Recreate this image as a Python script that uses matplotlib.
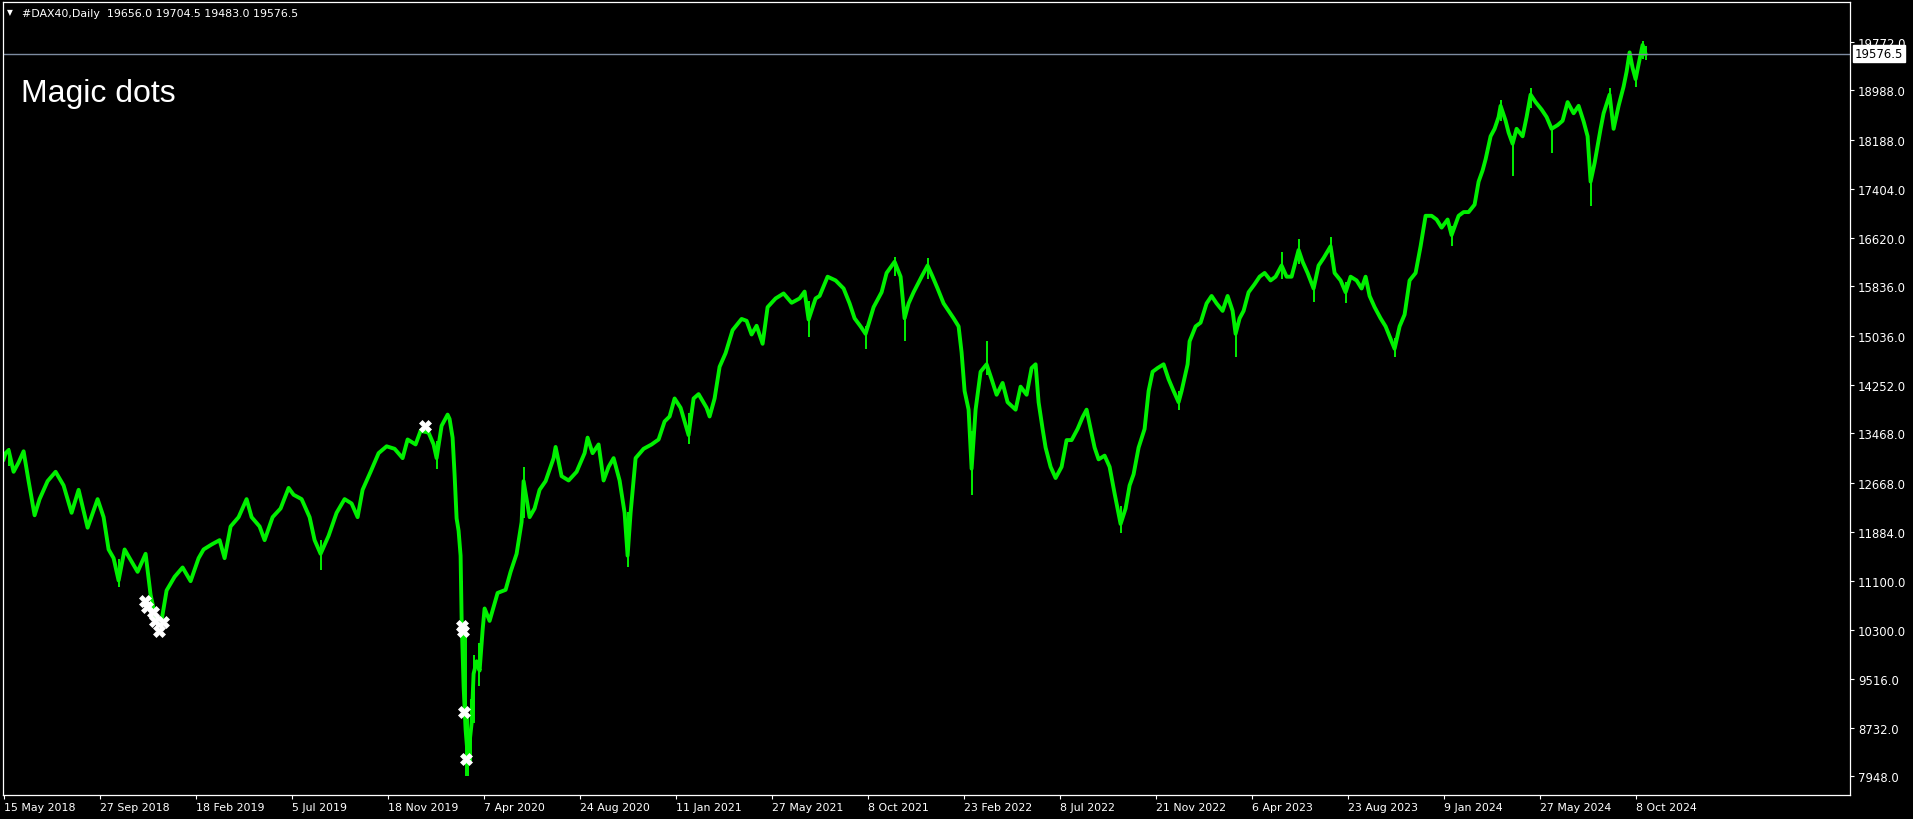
import numpy as np
import matplotlib.pyplot as plt
import matplotlib.transforms as mtransforms

# Daily DAX40 bars, indexed by bar number (1 bar per pixel)
bar_idx = [0, 2, 5, 10, 15, 20, 25, 31, 36, 44, 52, 60, 68, 75, 84, 94, 100, 105, 110, 115,
           121, 126, 134, 142, 147, 152, 158, 163, 171, 179, 187, 195, 200, 208, 216, 221, 227,
           235, 243, 248, 256, 261, 269, 277, 285, 290, 298, 306, 311, 317, 325, 333, 341, 348,
           354, 359, 367, 375, 383, 391, 399, 404, 412, 417, 425, 430, 433, 438, 444, 446, 449,
           451, 453, 455, 457, 458, 460, 462, 464, 466, 468, 470, 473, 476, 479, 481, 486, 494,
           502, 507, 513, 518, 520, 526, 531, 536, 542, 550, 552, 558, 565, 573, 581, 584, 589,
           595, 600, 605, 610, 616, 621, 624, 627, 632, 640, 648, 655, 661, 666, 671, 677, 685,
           690, 695, 703, 706, 711, 716, 722, 729, 738, 743, 748, 753, 759, 764, 772, 780, 788,
           796, 801, 805, 812,
           816, 824, 832, 840, 846, 851, 857, 862, 870, 878, 883, 891, 897, 901, 905, 910, 918,
           924, 929, 934, 940, 945, 950, 955, 958, 961, 965, 968, 972, 977, 983, 988, 993, 999,
           1004, 1012, 1017, 1023, 1028, 1032, 1035, 1039, 1042, 1047, 1052, 1058, 1063, 1068,
           1074, 1079, 1083, 1087, 1091, 1095, 1101, 1106, 1111, 1117, 1122, 1126, 1130, 1135,
           1141, 1145, 1149, 1154, 1160, 1165, 1170, 1175, 1178, 1184, 1186, 1192, 1197, 1203,
           1208, 1213, 1219, 1224, 1229, 1232, 1236, 1240, 1245, 1251, 1256, 1261, 1267, 1272,
           1278, 1283, 1288, 1295, 1299, 1304, 1310, 1315, 1320, 1327, 1331, 1337, 1342, 1347,
           1353, 1358, 1362, 1366, 1371, 1377, 1382, 1388, 1391, 1396, 1401, 1406, 1412, 1417,
           1422, 1428, 1433, 1438, 1444, 1448, 1455, 1460, 1465, 1471, 1475, 1479, 1482, 1487,
           1491, 1495, 1497, 1502, 1505, 1509, 1513, 1519, 1523, 1527, 1532, 1538, 1543, 1548,
           1554, 1559, 1564, 1570, 1575, 1580, 1584, 1587, 1591, 1597, 1600, 1606, 1610, 1615,
           1620, 1623, 1626, 1629, 1632, 1635, 1639, 1642]
close_px = [13050, 13150, 13200, 12850, 13000, 13180, 12700, 12150, 12410, 12700, 12850, 12630,
            12190, 12560, 11950, 12410, 12120, 11600, 11460, 11100, 11600, 11460, 11240, 11530,
            10870, 10500, 10460, 10940, 11160, 11310, 11090, 11460, 11600, 11680, 11750, 11460,
            11970, 12120, 12410, 12120, 11970, 11750, 12120, 12260, 12590, 12480, 12410, 12120,
            11750, 11530, 11820, 12190, 12410, 12340, 12120, 12560, 12850, 13150, 13260, 13220,
            13070, 13370, 13290, 13510, 13480, 13290, 13070, 13590, 13770, 13700, 13400, 12800,
            12100, 11900, 11500, 10500, 9400, 8700, 8300, 8500, 8800, 9600, 9800, 9650, 10300,
            10650, 10450, 10900, 10950, 11240, 11530, 12040, 12700, 12120, 12260, 12560, 12700,
            13070, 13250, 12780, 12710, 12850, 13150, 13400, 13150, 13290, 12710, 12930, 13070,
            12710, 12190, 11500, 12190, 13070, 13220, 13290, 13370, 13660, 13740, 14030, 13880,
            13440, 14030, 14100, 13880, 13740, 14030, 14540, 14760, 15130, 15310, 15280, 15060,
            15200, 14910, 15500, 15640, 15720, 15570, 15640, 15750, 15300, 15640,
            15680, 15990, 15930, 15800, 15560, 15320, 15190, 15070, 15500, 15740, 16050, 16230,
            15990, 15320, 15560, 15740, 15990, 16170, 15990, 15800, 15560, 15440, 15320, 15190,
            14770, 14150, 13850, 12900, 13850, 14460, 14580, 14340, 14090, 14280, 13970, 13850,
            14220, 14090, 14520, 14580, 13970, 13540, 13240, 12930, 12750, 12930, 13360, 13360,
            13540, 13730, 13850, 13540, 13240, 13050, 13110, 12930, 12500, 12010, 12260, 12630,
            12810, 13240, 13540, 14150, 14460, 14520, 14580, 14340, 14150, 13970, 14150, 14580,
            14950, 15190, 15250, 15560, 15680, 15560, 15440, 15680, 15440, 15070, 15320, 15440,
            15740, 15870, 15990, 16050, 15930, 15990, 16170, 15990, 15990, 16420, 16230, 16050,
            15800, 16170, 16290, 16480, 16050, 15930, 15740, 15990, 15930, 15800, 15990, 15680,
            15500, 15320, 15190, 14950, 14830, 15190, 15380, 15930, 16050, 16480, 16970, 16970,
            16910, 16780, 16910, 16660, 16970, 17030, 17030, 17150, 17520, 17700, 17880, 18250,
            18370, 18560, 18740, 18500, 18310, 18130, 18370, 18250, 18560, 18920, 18800, 18680,
            18560, 18370, 18430, 18500, 18800, 18620, 18740, 18490, 18250, 17520, 17820, 18370,
            18620, 18920, 18370, 18740, 19050, 19290, 19600, 19350, 19170, 19410, 19720, 19576.5]

# long wicks that stick out of the price ribbon
spike_idx = [5, 115, 317, 433, 458, 460, 462, 464, 467, 470, 475, 520, 624, 685, 805, 862, 891,
             901, 924, 968, 983, 1117, 1175, 1232, 1278, 1295, 1310, 1327, 1342, 1391, 1448,
             1497, 1509, 1527, 1548, 1587, 1606, 1632, 1639, 1642]
spike_low = [12950, 11000, 11270, 12900, 10110, 8980, 7950, 7960, 8200, 8800, 9400, 12100, 11310,
             13300, 15020, 14830, 16000, 14950, 15950, 12470, 14400, 11860, 13850, 14700, 15950,
             16200, 15590, 16300, 15560, 14700, 16480, 18500, 17610, 18700, 17980, 17120, 18700,
             19050, 19500, 19483]
spike_high = [13240, 11450, 11750, 13350, 11090, 10400, 10370, 8900, 9200, 9900, 10100, 12930,
              12200, 13800, 15600, 15200, 16300, 15500, 16290, 13500, 14950, 12300, 14150, 15200,
              16390, 16600, 15900, 16630, 15900, 15000, 16800, 18830, 18250, 19020, 18400, 17700,
              19020, 19300, 19790, 19704.5]

# "magic dots" signals (white crosses)
cross_idx = [141, 143, 149, 151, 155, 159, 421, 458, 459, 460, 462]
cross_val = [10770, 10670, 10590, 10450, 10290, 10430, 13590, 10370, 10290, 8980, 8220]

ytick_vals = [19772.0, 18988.0, 18188.0, 17404.0, 16620.0, 15836.0, 15036.0, 14252.0, 13468.0,
              12668.0, 11884.0, 11100.0, 10300.0, 9516.0, 8732.0, 7948.0]
xtick_idx = [0, 96, 192, 288, 384, 480, 576, 672, 768, 864, 960, 1056, 1152, 1248, 1344, 1440,
             1536, 1632]
xtick_lbl = ['15 May 2018', '27 Sep 2018', '18 Feb 2019', '5 Jul 2019', '18 Nov 2019',
             '7 Apr 2020', '24 Aug 2020', '11 Jan 2021', '27 May 2021', '8 Oct 2021',
             '23 Feb 2022', '8 Jul 2022', '21 Nov 2022', '6 Apr 2023', '23 Aug 2023',
             '9 Jan 2024', '27 May 2024', '8 Oct 2024']
last_price = 19576.5
header = '#DAX40,Daily  19656.0 19704.5 19483.0 19576.5'

W, H = 1913, 820
green = '#00f000'
plt.rcParams['font.family'] = 'DejaVu Sans'

fig = plt.figure(figsize=(W / 100, H / 100), dpi=100, facecolor='black')
ax = fig.add_axes([2.7 / W, 1 - 796 / H, 1847 / W, 793.3 / H])
ax.set_facecolor('black')

ax.plot(bar_idx, close_px, color=green, lw=2.8)
ax.vlines(spike_idx, spike_low, spike_high, color=green, lw=1.4)
ax.axhline(last_price, color='#7d8ba0', lw=1)
ax.plot(cross_idx, cross_val, ls='none', marker='X', ms=8, color='white', mec='white', mew=0.5,
        zorder=5)

ax.set_xlim(-0.9, 1846.1)
ax.set_ylim(7648, 20416)

for s in ax.spines.values():
    s.set_color('white')
    s.set_linewidth(0.9)

ax.yaxis.tick_right()
ax.set_yticks(ytick_vals)
ax.set_yticklabels(['%.1f' % v for v in ytick_vals])
ax.set_xticks(xtick_idx)
ax.set_xticklabels(xtick_lbl, ha='left')
ax.tick_params(colors='white', length=3, width=0.8)
ax.tick_params(axis='x', pad=2, labelsize=7.9)
ax.tick_params(axis='y', pad=3, labelsize=8.4)

# price label box on the right axis
trans = mtransforms.blended_transform_factory(ax.transAxes, ax.transData)
ax.text(1.0 + 5 / 1847, last_price, '%.1f' % last_price, transform=trans, ha='left',
        va='center', color='black', fontsize=8.4,
        bbox=dict(facecolor='white', edgecolor='white', pad=1.5), clip_on=False, zorder=6)

fig.text(7 / W, 1 - 15.5 / H, '\u25bc', color='white', fontsize=5.5, va='baseline')
fig.text(21.7 / W, 1 - 16.7 / H, header, color='white', fontsize=7.95, va='baseline')
fig.text(21 / W, 1 - 102 / H, 'Magic dots', color='white', fontsize=23,
         family='Liberation Sans', va='baseline')

fig.savefig('out.png', dpi=100, facecolor='black')
